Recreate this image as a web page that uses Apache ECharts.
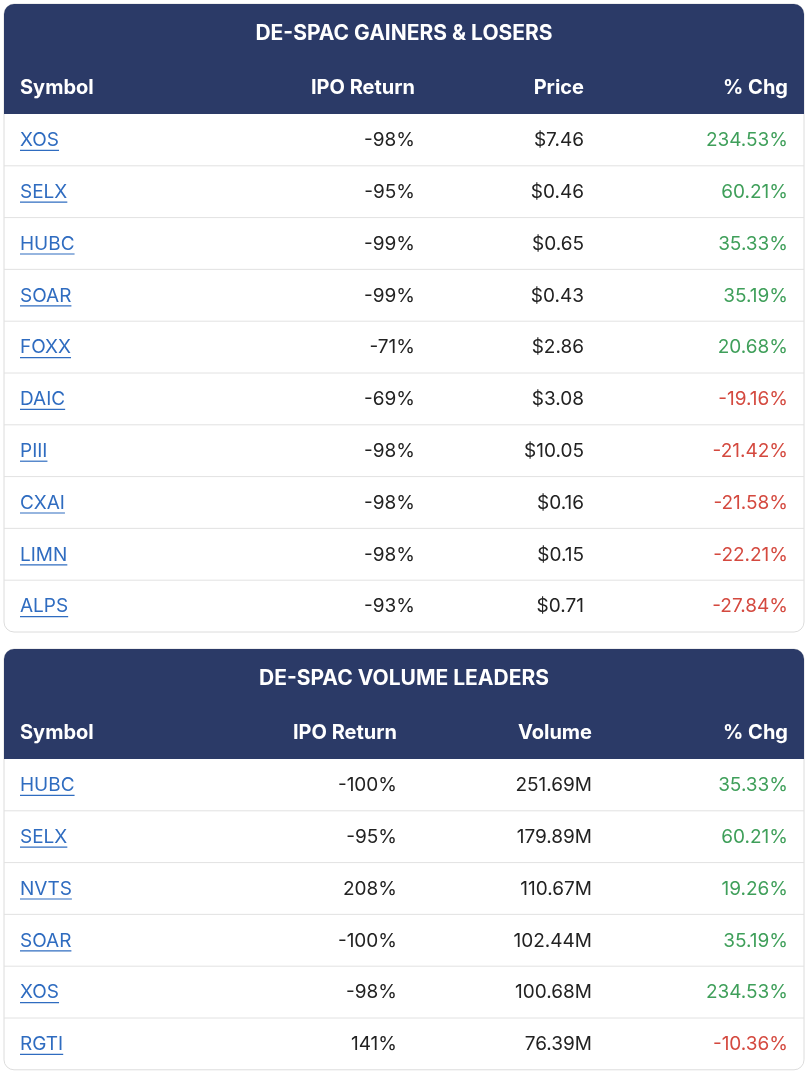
<!DOCTYPE html>
<html><head><meta charset="utf-8">
<script src="https://cdn.jsdelivr.net/npm/echarts@6/dist/echarts.min.js"></script>
<style>html,body{margin:0;background:#fff}#c{width:806px;height:1076px}</style>
</head><body><div id="c"></div>
<script>
// table 1
var title1 = 'DE-SPAC GAINERS & LOSERS';
var cols1 = ['Symbol', 'IPO Return', 'Price', '% Chg'];
var sym1 = ['XOS', 'SELX', 'HUBC', 'SOAR', 'FOXX', 'DAIC', 'PIII', 'CXAI', 'LIMN', 'ALPS'];
var ipo1 = ['-98%', '-95%', '-99%', '-99%', '-71%', '-69%', '-98%', '-98%', '-98%', '-93%'];
var price1 = ['$7.46', '$0.46', '$0.65', '$0.43', '$2.86', '$3.08', '$10.05', '$0.16', '$0.15', '$0.71'];
var chg1 = [234.53, 60.21, 35.33, 35.19, 20.68, -19.16, -21.42, -21.58, -22.21, -27.84];
// table 2
var title2 = 'DE-SPAC VOLUME LEADERS';
var cols2 = ['Symbol', 'IPO Return', 'Volume', '% Chg'];
var sym2 = ['HUBC', 'SELX', 'NVTS', 'SOAR', 'XOS', 'RGTI'];
var ipo2 = ['-100%', '-95%', '208%', '-100%', '-98%', '141%'];
var vol2 = ['251.69M', '179.89M', '110.67M', '102.44M', '100.68M', '76.39M'];
var chg2 = [35.33, 60.21, 19.26, 35.19, 234.53, -10.36];

var NAVY = '#2b3a67', GREEN = '#3f9f5a', RED = '#d4493f', LINK = '#2f6cc0', INK = '#222';
var FONT = 'Inter, "Noto Sans", sans-serif';
var ctx = document.createElement('canvas').getContext('2d');
ctx.font = '19px ' + FONT;

function table(top, title, cols, colX, syms, c2, c3, chg) {
  var els = [];
  var x0 = 4, w = 800, titleH = 58, headH = 52, rowH = 51.8;
  var h = titleH + headH + rowH * syms.length;
  els.push({ type: 'rect', shape: { x: x0, y: top, width: w, height: h, r: 10 },
    style: { fill: '#fff', stroke: '#dcdcdc', lineWidth: 1 } });
  els.push({ type: 'rect', shape: { x: x0, y: top, width: w, height: titleH + headH, r: [10, 10, 0, 0] },
    style: { fill: NAVY } });
  els.push({ type: 'text', x: 404, y: top + titleH / 2 + 1, style: { text: title, fill: '#fff',
    font: 'bold 21px ' + FONT, align: 'center', verticalAlign: 'middle' } });
  cols.forEach(function (c, i) {
    els.push({ type: 'text', x: colX[i], y: top + titleH + headH / 2, style: { text: c, fill: '#fff',
      font: 'bold 20px ' + FONT, align: i ? 'right' : 'left', verticalAlign: 'middle' } });
  });
  syms.forEach(function (s, r) {
    var y = top + titleH + headH + rowH * r, cy = y + rowH / 2 + 0.5;
    if (r) els.push({ type: 'line', shape: { x1: x0, y1: y, x2: x0 + w, y2: y },
      style: { stroke: '#e2e2e2', lineWidth: 1 } });
    els.push({ type: 'text', x: colX[0], y: cy, style: { text: s, fill: LINK, font: '19px ' + FONT,
      align: 'left', verticalAlign: 'middle' } });
    var tw = ctx.measureText(s).width;
    els.push({ type: 'line', shape: { x1: colX[0], y1: cy + 10, x2: colX[0] + tw, y2: cy + 10 },
      style: { stroke: LINK, lineWidth: 1.2 } });
    els.push({ type: 'text', x: colX[1], y: cy, style: { text: c2[r], fill: INK, font: '19px ' + FONT,
      align: 'right', verticalAlign: 'middle' } });
    els.push({ type: 'text', x: colX[2], y: cy, style: { text: c3[r], fill: INK, font: '19px ' + FONT,
      align: 'right', verticalAlign: 'middle' } });
    els.push({ type: 'text', x: colX[3], y: cy, style: { text: chg[r].toFixed(2) + '%',
      fill: chg[r] >= 0 ? GREEN : RED, font: '19px ' + FONT, align: 'right', verticalAlign: 'middle' } });
  });
  return els;
}

var chart = echarts.init(document.getElementById('c'));
chart.setOption({
  graphic: table(4, title1, cols1, [20, 415, 584, 788], sym1, ipo1, price1, chg1)
    .concat(table(649, title2, cols2, [20, 397, 592, 788], sym2, ipo2, vol2, chg2))
});
</script></body></html>
